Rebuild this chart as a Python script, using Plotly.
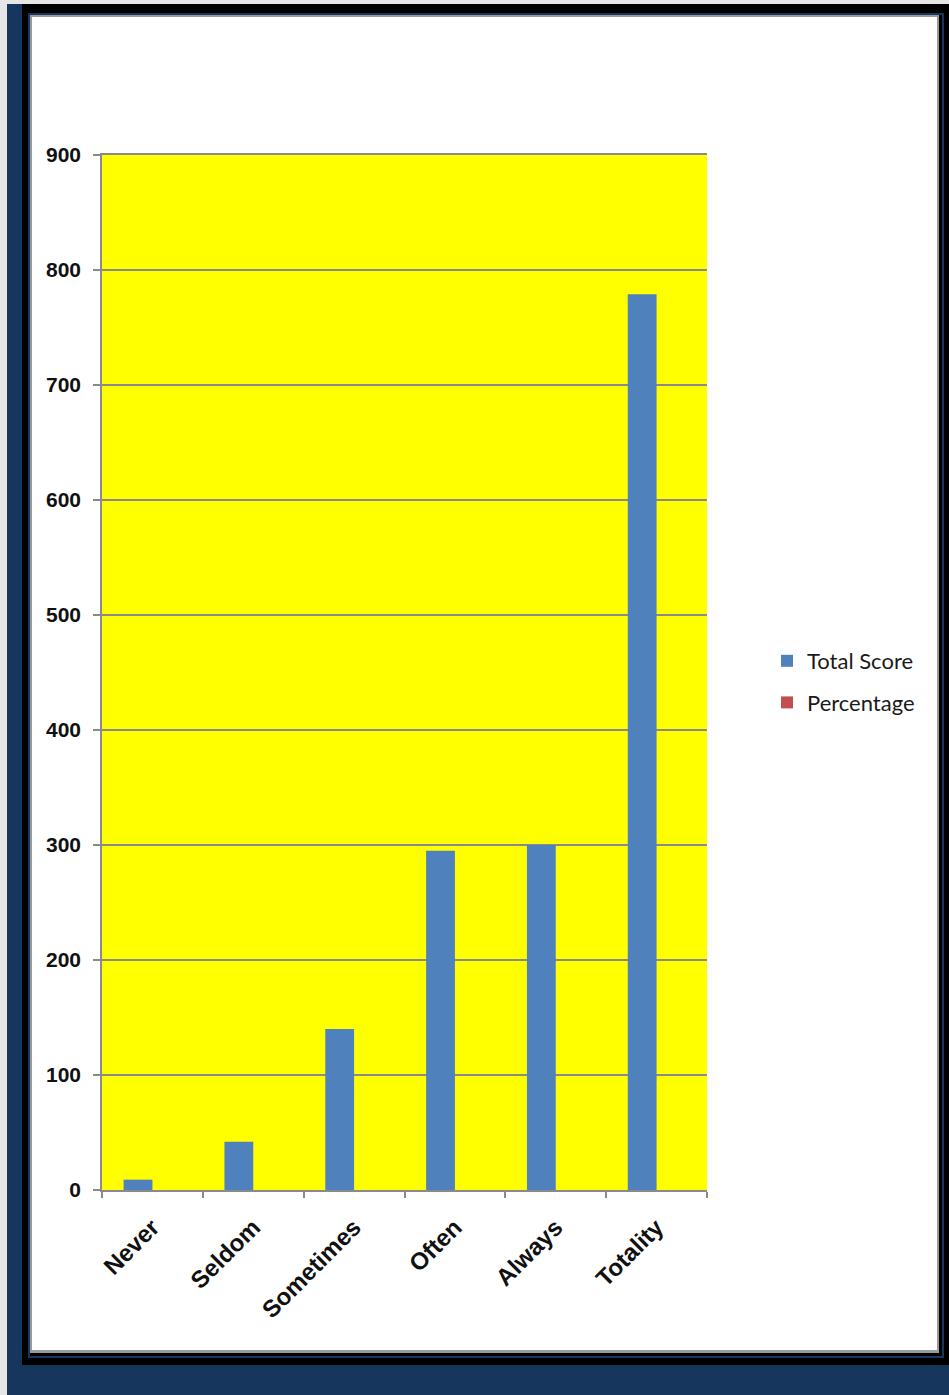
import plotly.graph_objects as go

# Survey responses by frequency
categories = ["Never", "Seldom", "Sometimes", "Often", "Always", "Totality"]
total_score = [9, 42, 140, 295, 300, 779]
percentage = [0, 0, 0, 0, 0, 0]

y_ticks = [0, 100, 200, 300, 400, 500, 600, 700, 800, 900]

W, H = 949, 1395
NAVY = "#17365D"
GRID = "#8A8A8A"
YELLOW = "#FFFF00"


def px(x):
    return x / W


def py(y):
    return 1 - y / H


fig = go.Figure()
fig.add_trace(go.Bar(
    x=categories, y=total_score, name="Total Score",
    marker=dict(color="#4F81BD", line=dict(width=0)),
    legendgroup="a",
))
fig.add_trace(go.Bar(
    x=categories, y=percentage, name="Percentage",
    marker=dict(color="#C0504D", line=dict(width=0)),
    legendgroup="b",
))

# Frame: navy page, black border, thin navy line, grey bevel, white card
shapes = [
    dict(type="rect", x0=px(0), x1=px(7), y0=py(0), y1=py(H), fillcolor="#E6E6E6", line_width=0),
    dict(type="rect", x0=px(0), x1=px(W), y0=py(0), y1=py(4), fillcolor="#E6E6E6", line_width=0),
    dict(type="rect", x0=px(22), x1=px(W), y0=py(4), y1=py(1365), fillcolor="#000000", line_width=0),
    dict(type="rect", x0=px(28), x1=px(944), y0=py(13), y1=py(1358), fillcolor=NAVY, line_width=0),
    dict(type="rect", x0=px(30), x1=px(942), y0=py(15), y1=py(1356), fillcolor="#000000", line_width=0),
    dict(type="rect", x0=px(30), x1=px(939), y0=py(15), y1=py(1353), fillcolor="#9A9A9A", line_width=0),
    dict(type="rect", x0=px(32), x1=px(937), y0=py(17), y1=py(1350), fillcolor="#FFFFFF", line_width=0),
]
for s in shapes:
    s.update(xref="paper", yref="paper", layer="below")

# Yellow plot area (sits above the white card, below the gridlines)
shapes.append(dict(type="rect", xref="x domain", yref="y domain",
                   x0=0, x1=1, y0=0, y1=1, fillcolor=YELLOW, line_width=0, layer="below"))

fig.update_layout(
    width=W, height=H,
    margin=dict(l=0, r=0, t=0, b=0, autoexpand=False),
    paper_bgcolor=NAVY,
    plot_bgcolor=YELLOW,
    barmode="group",
    bargap=0.4286,
    bargroupgap=0,
    shapes=shapes,
    showlegend=True,
    legend=dict(
        x=px(767), y=py(682), xanchor="left", yanchor="middle",
        font=dict(family="Lato", size=22, color="#1A1A1A"),
        bgcolor="rgba(0,0,0,0)",
        tracegroupgap=10,
        traceorder="grouped",
    ),
    xaxis=dict(
        domain=[px(102), px(707)],
        type="category",
        automargin=False,
        tickson="boundaries",
        ticks="outside", ticklen=6, tickcolor=GRID, tickwidth=1.5,
        showline=True, linecolor=GRID, linewidth=1.5, mirror=True,
        showgrid=False,
        tickangle=-45,
        ticklabelstandoff=12,
        tickfont=dict(family="Liberation Sans", size=24, color="#111111", weight="bold"),
    ),
    yaxis=dict(
        domain=[py(1190), py(155)],
        range=[0, 900],
        automargin=False,
        tickvals=y_ticks,
        ticks="outside", ticklen=7, tickcolor=GRID, tickwidth=1.5,
        showline=True, linecolor=GRID, linewidth=1.5,
        showgrid=True, gridcolor=GRID, gridwidth=1.5,
        zeroline=False,
        tickfont=dict(family="Liberation Sans", size=21, color="#111111", weight="bold"),
        ticklabelstandoff=8,
    ),
)

fig.write_html("out.html")
